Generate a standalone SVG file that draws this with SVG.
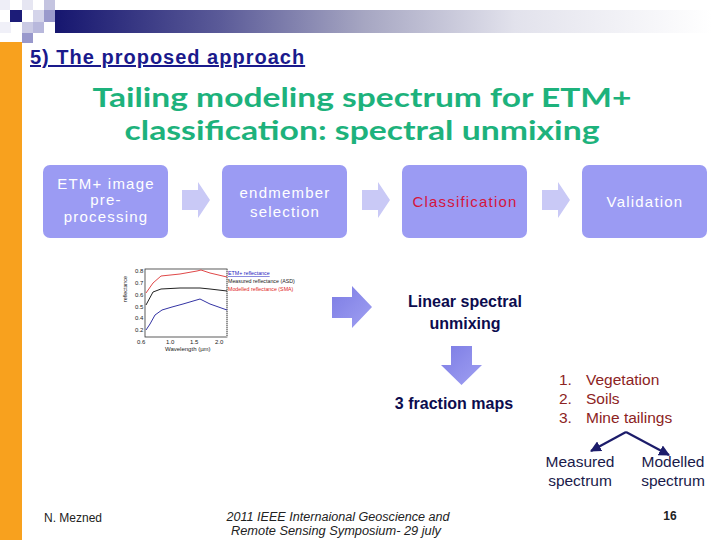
<svg xmlns="http://www.w3.org/2000/svg" width="720" height="540" viewBox="0 0 720 540">
<defs>
<linearGradient id="bar" x1="0" y1="0" x2="1" y2="0">
<stop offset="0" stop-color="#16166f"/>
<stop offset="0.25" stop-color="#5a5a98"/>
<stop offset="0.47" stop-color="#a6a6c2"/>
<stop offset="0.7" stop-color="#e2e2ec"/>
<stop offset="1" stop-color="#ffffff"/>
</linearGradient>
<linearGradient id="bigarrow" x1="0" y1="0" x2="1" y2="1">
<stop offset="0" stop-color="#7c7ce4"/>
<stop offset="1" stop-color="#a0a0f2"/>
</linearGradient>
<marker id="ah" viewBox="0 0 10 10" refX="9" refY="5" markerWidth="5" markerHeight="5" orient="auto" markerUnits="strokeWidth">
<path d="M0,0 L10,5 L0,10 z" fill="#1c1c6a"/>
</marker>
<style>
.box{fill:#9b9bf3;}
.btxt{font-family:"Liberation Sans",Arial,sans-serif;font-size:15px;fill:#ffffff;text-anchor:middle;letter-spacing:1.2px;}
.blk{fill:#c9c9f6;}
.bold{font-family:"Liberation Sans",Arial,sans-serif;font-size:16px;font-weight:bold;fill:#0c0c4e;text-anchor:middle;}
.list{font-family:"Liberation Sans",Arial,sans-serif;font-size:15.5px;fill:#8c2323;}
.spec{font-family:"Liberation Sans",Arial,sans-serif;font-size:15.5px;fill:#1a1a4a;text-anchor:middle;}
.tiny{font-family:"Liberation Sans",Arial,sans-serif;font-size:6px;fill:#222;}
.leg{font-family:"Liberation Sans",Arial,sans-serif;font-size:5.3px;fill:#222;}
.title{font-family:Lato,"Open Sans",sans-serif;font-size:27px;font-weight:bold;fill:#1db27c;text-anchor:middle;}
.foot{font-family:"Liberation Sans",Arial,sans-serif;font-size:12px;fill:#222;}
</style>
</defs>
<rect x="0" y="0" width="720" height="540" fill="#ffffff"/>

<g id="decoration">
<rect x="55" y="10" width="657" height="23" fill="url(#bar)"/>
<rect x="0" y="0" width="10" height="10" fill="#eeeef7"/>
<rect x="22" y="0" width="11" height="10" fill="#e6e6f2"/>
<rect x="44" y="0" width="11" height="10" fill="#c4c4e0"/>
<rect x="10" y="10" width="12" height="12" fill="#1c1c78"/>
<rect x="33" y="10" width="11" height="12" fill="#d4d4ea"/>
<rect x="44" y="10" width="11" height="12" fill="#9a9acc"/>
<rect x="0" y="22" width="11" height="11" fill="#f0f0f8"/>
<rect x="22" y="22" width="11" height="11" fill="#cacae4"/>
<rect x="33" y="22" width="11" height="11" fill="#b8b8dc"/>
<rect x="22" y="33" width="11" height="10" fill="#9898cc"/>
<rect x="0" y="42" width="22" height="498" fill="#f8a11e"/>
</g>

<text x="30" y="64" font-family="'Liberation Sans',Arial,sans-serif" font-size="20" font-weight="bold" fill="#1a1a8c" letter-spacing="1" text-decoration="underline">5) The proposed approach</text>

<text class="title" x="362" y="106.5" textLength="539" lengthAdjust="spacingAndGlyphs">Tailing modeling spectrum for ETM+</text>
<text class="title" x="362" y="139.5" textLength="475" lengthAdjust="spacingAndGlyphs">classification: spectral unmixing</text>

<g id="n-etm">
<rect class="box" x="43" y="165" width="125" height="73" rx="7"/>
<text class="btxt" x="106" y="189">ETM+ image</text>
<text class="btxt" x="106" y="205">pre-</text>
<text class="btxt" x="106" y="222">processing</text>
</g>
<g id="n-endmember">
<rect class="box" x="222" y="165" width="125" height="73" rx="7"/>
<text class="btxt" x="285" y="198">endmember</text>
<text class="btxt" x="285" y="217">selection</text>
</g>
<g id="n-classification">
<rect class="box" x="402" y="165" width="125" height="73" rx="7"/>
<text class="btxt" x="465" y="207" style="fill:#d5143c">Classification</text>
</g>
<g id="n-validation">
<rect class="box" x="582" y="165" width="125" height="73" rx="7"/>
<text class="btxt" x="645" y="207">Validation</text>
</g>

<g id="chart">
<text class="leg" transform="translate(127,302) rotate(-90)" font-size="5">reflectance</text>
<rect x="145" y="269" width="82" height="68" fill="none" stroke="#333" stroke-width="0.8"/>
<line x1="227" y1="269" x2="227" y2="337" stroke="#fff" stroke-width="1"/>
<line x1="227" y1="269" x2="227" y2="337" stroke="#333" stroke-width="0.8" stroke-dasharray="1,1"/>
<text class="tiny" x="135" y="273">0.8</text>
<text class="tiny" x="135" y="285">0.7</text>
<text class="tiny" x="135" y="297">0.6</text>
<text class="tiny" x="135" y="309">0.5</text>
<text class="tiny" x="135" y="320">0.4</text>
<text class="tiny" x="135" y="332">0.2</text>
<text class="tiny" x="137" y="344">0.6</text>
<text class="tiny" x="166" y="344">1.0</text>
<text class="tiny" x="190" y="344">1.5</text>
<text class="tiny" x="215" y="344">2.0</text>
<text class="tiny" x="165" y="351">Wavelength (µm)</text>
<polyline fill="none" stroke="#e04848" stroke-width="1" points="146,293 153,283 161,276 180,274 197,271 201,270 210,273 227,277"/>
<polyline fill="none" stroke="#222" stroke-width="1" points="146,305 153,292 161,289 180,288 200,288 210,289 227,291"/>
<polyline fill="none" stroke="#3434a4" stroke-width="1" points="146,330 150,324 155,315 162,310 172,307 183,304 200,299 210,304 227,310"/>
<text class="leg" x="228" y="275" style="fill:#2424c0" text-decoration="underline">ETM+ reflectance</text>
<text class="leg" x="228" y="283">Measured reflectance (ASD)</text>
<text class="leg" x="228" y="291" style="fill:#e02424">Modelled reflectance (SMA)</text>
</g>

<g id="n-linear">
<text class="bold" x="465" y="307">Linear spectral</text>
<text class="bold" x="465" y="329">unmixing</text>
</g>
<g id="n-fraction">
<text class="bold" x="454" y="409">3 fraction maps</text>
</g>
<g id="n-list">
<text class="list" x="559" y="385">1.</text><text class="list" x="586" y="385">Vegetation</text>
<text class="list" x="559" y="404">2.</text><text class="list" x="586" y="404">Soils</text>
<text class="list" x="559" y="423">3.</text><text class="list" x="586" y="423">Mine tailings</text>
</g>
<g id="n-measured">
<text class="spec" x="580" y="467">Measured</text>
<text class="spec" x="580" y="486">spectrum</text>
</g>
<g id="n-modelled">
<text class="spec" x="673" y="467">Modelled</text>
<text class="spec" x="673" y="486">spectrum</text>
</g>

<g id="connectors">
<polygon class="blk" points="182,190 198,190 198,182 210,200 198,218 198,210 182,210"/>
<polygon class="blk" points="362,190 378,190 378,182 390,200 378,218 378,210 362,210"/>
<polygon class="blk" points="542,190 558,190 558,182 570,200 558,218 558,210 542,210"/>
<polygon fill="url(#bigarrow)" points="332,297 352,297 352,286 372,307 352,328 352,318 332,318"/>
<polygon fill="url(#bigarrow)" points="451,346 472,346 472,365 482,365 461.5,385 441,365 451,365"/>
<path d="M626,432 L591,451" fill="none" stroke="#1c1c6a" stroke-width="2.2" marker-end="url(#ah)"/>
<path d="M626,432 L669,455" fill="none" stroke="#1c1c6a" stroke-width="2.2" marker-end="url(#ah)"/>
</g>

<g id="footer">
<text class="foot" x="44" y="522">N. Mezned</text>
<text class="foot" x="338" y="521" font-style="italic" text-anchor="middle" textLength="223" lengthAdjust="spacingAndGlyphs">2011 IEEE Internaional Geoscience and</text>
<text class="foot" x="336" y="535" font-style="italic" text-anchor="middle" textLength="210" lengthAdjust="spacingAndGlyphs">Remote Sensing Symposium- 29 july</text>
<text class="foot" x="670" y="520" font-size="13" font-weight="bold" text-anchor="middle">16</text>
</g>
</svg>
